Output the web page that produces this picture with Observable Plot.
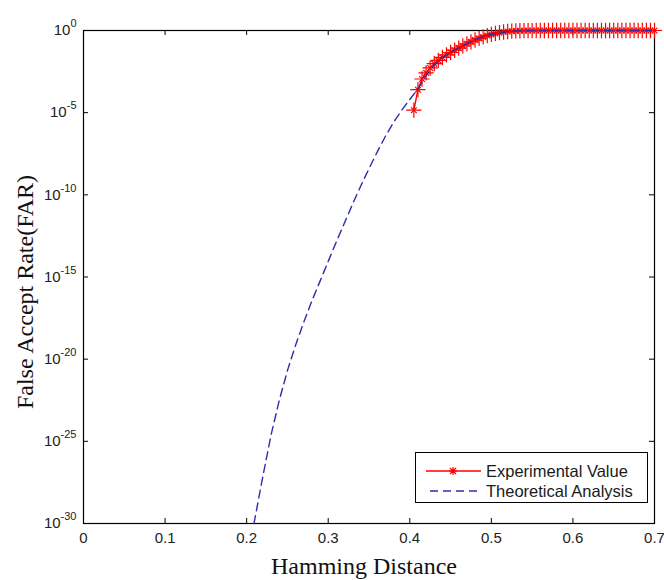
<!DOCTYPE html>
<html><head><meta charset="utf-8">
<script src="https://cdn.jsdelivr.net/npm/d3@7"></script>
<script src="https://cdn.jsdelivr.net/npm/@observablehq/plot@0.6"></script>
<style>
body{margin:0;background:#fff;}
#wrap{position:relative;width:664px;height:580px;background:#fff;overflow:hidden;}
#legend{position:absolute;left:415px;top:452px;width:231px;height:49px;border:1px solid #000;background:#fff;font-family:"Liberation Sans",Arial,sans-serif;font-size:16.5px;color:#1a1a1a;}
.row{position:absolute;left:8px;height:20px;display:flex;align-items:center;white-space:nowrap;}
.row svg{margin-right:4px;}
.title{position:absolute;font-family:"Liberation Serif","Times New Roman",serif;font-size:24px;color:#111;white-space:nowrap;}
</style></head><body><div id="wrap"></div>
<script>
// ---- data ----
const xTicks = [0, 0.1, 0.2, 0.3, 0.4, 0.5, 0.6, 0.7];
const yTicks = [1e-30, 1e-25, 1e-20, 1e-15, 1e-10, 1e-5, 1];

const expX = [0.405,0.41,0.415,0.42,0.425,0.43,0.435,0.44,0.445,0.45,
  0.455,0.46,0.465,0.47,0.475,0.48,0.485,0.49,0.495,0.5,
  0.505,0.51,0.515,0.52,0.525,0.53,0.535,0.54,0.545,0.55,
  0.555,0.56,0.565,0.57,0.575,0.58,0.585,0.59,0.595,0.6,
  0.605,0.61,0.615,0.62,0.625,0.63,0.635,0.64,0.645,0.65,
  0.655,0.66,0.665,0.67,0.675,0.68,0.685,0.69,0.695,0.7];
const expY = [1.41e-5,2.51e-4,1.12e-3,2.63e-3,5.25e-3,9.55e-3,0.0151,0.0229,0.0331,0.0457,
  0.0631,0.0851,0.115,0.155,0.204,0.263,0.331,0.407,0.490,0.575,
  0.661,0.741,0.813,0.871,0.912,0.944,0.966,0.979,0.989,0.993,
  1,1,1,1,1,1,1,1,1,1,
  1,1,1,1,1,1,1,1,1,1,
  1,1,1,1,1,1,1,1,1,1];

const theoX = [0.209,0.22,0.23,0.24,0.25,0.26,0.27,0.28,0.29,0.30,
  0.31,0.32,0.33,0.34,0.35,0.36,0.37,0.38,0.39,0.40,
  0.41,0.42,0.43,0.44,0.45,0.46,0.47,0.48,0.49,0.50,
  0.51,0.52,0.53,0.54,0.55,0.60,0.65,0.70];
const theoY = [1e-30,7.94e-28,2.51e-25,3.16e-23,2.0e-21,7.08e-20,1.78e-18,3.55e-17,5.62e-16,8.91e-15,
  1.41e-13,2.0e-12,2.82e-11,3.55e-10,3.98e-9,3.98e-8,3.55e-7,2.51e-6,1.41e-5,6.31e-5,
  2.82e-4,1.78e-3,7.94e-3,0.0224,0.0479,0.0891,0.158,0.269,0.417,0.575,
  0.741,0.871,0.944,0.977,0.991,1,1,1];

const seriesNames = ["Experimental Value", "Theoretical Analysis"];
const xTitle = "Hamming Distance";
const yTitle = "False Accept Rate(FAR)";

const expData = expX.map((x, i) => ({x, y: expY[i]}));
const theoData = theoX.map((x, i) => ({x, y: theoY[i]}));

// ---- layout ----
const W = 664, H = 580, mT = 30, mB = 57, mL = 83, mR = 10;
const plotH = H - mT - mB, plotW = W - mL - mR, tk = 5;
const RED = "#ff0000", BLUE = "#2e2ea8";

const chart = Plot.plot({
  width: W, height: H,
  marginTop: mT, marginBottom: mB, marginLeft: mL, marginRight: mR,
  style: {fontFamily: "'Liberation Sans', Arial, sans-serif", fontSize: "15px", color: "#222", background: "#fff", overflow: "visible"},
  x: {domain: [0, 0.7]},
  y: {type: "log", domain: [1e-30, 1]},
  marks: [
    Plot.axisX(xTicks, {tickSize: 0, tickPadding: 9, tickFormat: d => String(d), label: null}),
    Plot.axisY(yTicks, {tickSize: 0, tickPadding: 7, tickFormat: d => "10^" + Math.round(Math.log10(d)), label: null}),
    Plot.tickX(xTicks, {x: d => d, insetTop: plotH - tk, stroke: "#000"}),
    Plot.tickX(xTicks, {x: d => d, insetBottom: plotH - tk, stroke: "#000"}),
    Plot.tickY(yTicks, {y: d => d, insetRight: plotW - tk, stroke: "#000"}),
    Plot.tickY(yTicks, {y: d => d, insetLeft: plotW - tk, stroke: "#000"}),
    Plot.frame({stroke: "#000", strokeWidth: 1.2}),
    Plot.line(expData, {x: "x", y: "y", stroke: RED, strokeWidth: 1.4}),
    Plot.dot(expData, {x: "x", y: "y", symbol: "plus", r: 5, stroke: RED, strokeWidth: 1.2}),
    Plot.dot(expData, {x: "x", y: "y", symbol: "times", r: 2.7, stroke: RED, strokeWidth: 1.2}),
    Plot.line(theoData, {x: "x", y: "y", stroke: BLUE, strokeWidth: 1.4, strokeDasharray: "8,5"})
  ]
});

// superscript exponents on y tick labels
chart.querySelectorAll('g[aria-label="y-axis tick label"] text').forEach(t => {
  const s = t.textContent;
  const exp = s.split("^")[1];
  t.textContent = "";
  const ns = "http://www.w3.org/2000/svg";
  const a = document.createElementNS(ns, "tspan");
  a.textContent = "10";
  const b = document.createElementNS(ns, "tspan");
  b.textContent = exp;
  b.setAttribute("dy", "-8");
  b.setAttribute("font-size", "11");
  t.appendChild(a); t.appendChild(b);
});

const wrap = document.getElementById("wrap");
wrap.appendChild(chart);

// axis titles
const xt = document.createElement("div");
xt.className = "title"; xt.textContent = xTitle;
xt.style.left = "364px"; xt.style.top = "566px";
xt.style.transform = "translate(-50%,-50%)";
wrap.appendChild(xt);
const yt = document.createElement("div");
yt.className = "title"; yt.textContent = yTitle;
yt.style.left = "25px"; yt.style.top = "292px";
yt.style.transform = "translate(-50%,-50%) rotate(-90deg)";
wrap.appendChild(yt);

// legend
const leg = document.createElement("div");
leg.id = "legend";
const sample = (i) => i === 0
  ? `<svg width="58" height="20"><line x1="2" y1="10" x2="57" y2="10" stroke="${RED}" stroke-width="1.4"/>
     <path d="M29,6V14M25,10H33M26,7L32,13M32,7L26,13" stroke="${RED}" stroke-width="1.2"/></svg>`
  : `<svg width="58" height="20"><line x1="6" y1="10" x2="57" y2="10" stroke="${BLUE}" stroke-width="1.4" stroke-dasharray="8,5"/></svg>`;
seriesNames.forEach((n, i) => {
  const r = document.createElement("div");
  r.className = "row";
  r.style.top = (8 + i * 20) + "px";
  r.innerHTML = sample(i) + `<span>${n}</span>`;
  leg.appendChild(r);
});
wrap.appendChild(leg);
</script></body></html>
